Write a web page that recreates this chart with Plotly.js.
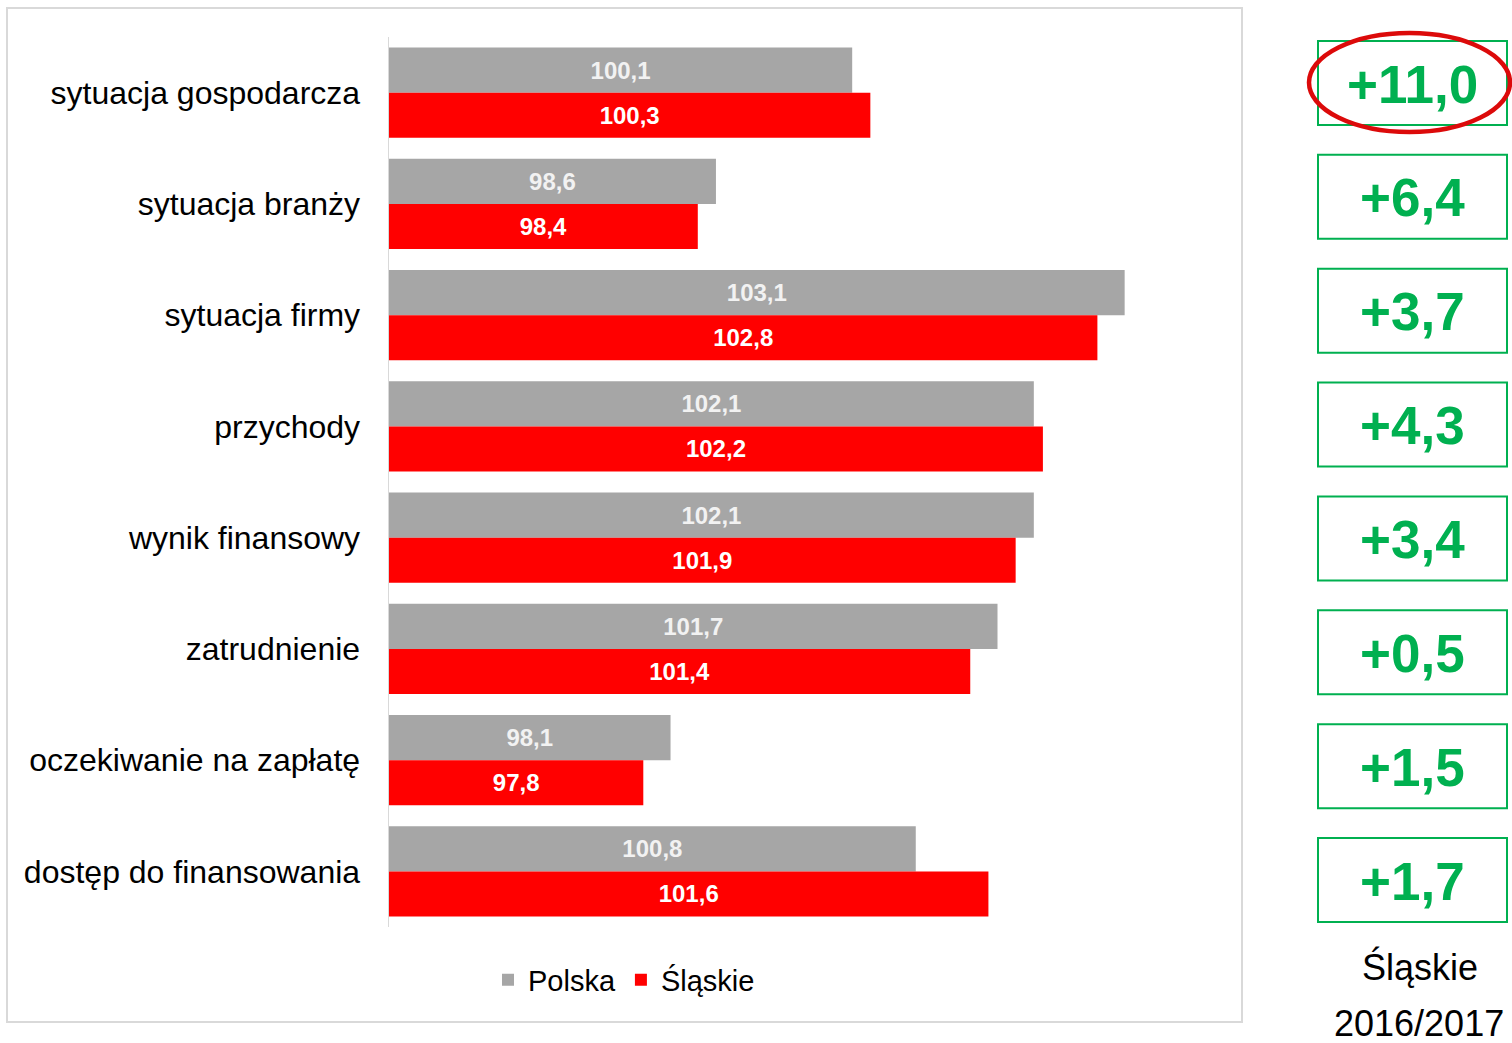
<!DOCTYPE html>
<html>
<head>
<meta charset="utf-8">
<script src="https://cdn.plot.ly/plotly-3.0.1.min.js"></script>
<style>
  html, body { margin: 0; padding: 0; background: #ffffff; }
  #chart { width: 1512px; height: 1043px; }
</style>
</head>
<body>
<div id="chart"></div>
<script>
// ---- data ----
const categories = [
  "sytuacja gospodarcza",
  "sytuacja branży",
  "sytuacja firmy",
  "przychody",
  "wynik finansowy",
  "zatrudnienie",
  "oczekiwanie na zapłatę",
  "dostęp do finansowania"
];
const polska = [100.1, 98.6, 103.1, 102.1, 102.1, 101.7, 98.1, 100.8];
const slaskie = [100.3, 98.4, 102.8, 102.2, 101.9, 101.4, 97.8, 101.6];
const zmiany = [11.0, 6.4, 3.7, 4.3, 3.4, 0.5, 1.5, 1.7];
const seriesNames = ["Polska", "Śląskie"];
const sideTitle = ["Śląskie", "2016/2017"];
const axisMin = 95;

// ---- layout helpers (pixel -> paper) ----
const W = 1512, H = 1043;
const L = 389, R = 1230, T = 37, B = 927;
const px = x => (x - L) / (R - L);
const py = y => (B - y) / (B - T);
const FONT = "Liberation Sans, Arial, sans-serif";

const fmtLabel = v => v.toFixed(1).replace(".", ",");
const fmtDiff = v => "+" + fmtLabel(v);

const makeTrace = (name, vals, color, txtColor) => ({
  type: "bar", orientation: "h", name: name,
  y: categories,
  base: axisMin,
  x: vals.map(v => v - axisMin),
  text: vals.map(fmtLabel),
  marker: { color: color, line: { width: 0 } },
  textposition: "inside", insidetextanchor: "middle",
  textangle: 0, constraintext: "none",
  textfont: { family: FONT, size: 24, color: txtColor, weight: "bold" },
  hoverinfo: "skip"
});

const traces = [
  makeTrace(seriesNames[0], polska, "#A6A6A6", "#F2F2F2"),
  makeTrace(seriesNames[1], slaskie, "#FF0000", "#FFFFFF")
];

const shapes = [];
const annotations = [];

// outer chart border
shapes.push({
  type: "rect", xref: "paper", yref: "paper",
  x0: px(7), x1: px(1242), y0: py(1022), y1: py(8),
  line: { color: "#D9D9D9", width: 2 }, fillcolor: "rgba(0,0,0,0)", layer: "below"
});

// side boxes with changes
const boxTop0 = 41, boxStep = 113.86, boxH = 84, boxL = 1318, boxR = 1507;
zmiany.forEach((v, i) => {
  const top = boxTop0 + i * boxStep;
  shapes.push({
    type: "rect", xref: "paper", yref: "paper",
    x0: px(boxL), x1: px(boxR), y0: py(top + boxH), y1: py(top),
    line: { color: "#00B050", width: 2 }, fillcolor: "rgba(0,0,0,0)"
  });
  annotations.push({
    xref: "paper", yref: "paper", x: px((boxL + boxR) / 2), y: py(top + boxH / 2 + 1),
    xanchor: "center", yanchor: "middle", showarrow: false,
    text: "<b>" + fmtDiff(v) + "</b>",
    font: { family: FONT, size: 53, color: "#00B050" }
  });
});

// red ellipse around the first box
shapes.push({
  type: "circle", xref: "paper", yref: "paper",
  x0: px(1309), x1: px(1510), y0: py(132), y1: py(33),
  line: { color: "#DC0A0A", width: 4.5 }, fillcolor: "rgba(0,0,0,0)"
});

// side caption
annotations.push({
  xref: "paper", yref: "paper", x: px(1420), y: py(967),
  xanchor: "center", yanchor: "middle", showarrow: false,
  text: sideTitle[0], font: { family: FONT, size: 36, color: "#000000" }
});
annotations.push({
  xref: "paper", yref: "paper", x: px(1419), y: py(1045),
  xanchor: "center", yanchor: "bottom", showarrow: false, borderpad: 0,
  text: sideTitle[1], font: { family: FONT, size: 36, color: "#000000" }
});

const layout = {
  width: W, height: H,
  margin: { l: L, r: W - R, t: T, b: H - B, pad: 0 },
  paper_bgcolor: "#FFFFFF", plot_bgcolor: "#FFFFFF",
  barmode: "group", bargap: 0.19, bargroupgap: 0,
  font: { family: FONT, color: "#000000" },
  showlegend: true,
  legend: {
    orientation: "h", x: px(624), xanchor: "center", y: py(980), yanchor: "middle",
    font: { family: FONT, size: 29, color: "#000000" },
    traceorder: "normal", bgcolor: "rgba(0,0,0,0)", itemwidth: 30
  },
  xaxis: {
    range: [axisMin, 104.26], showgrid: false, zeroline: false, showline: false,
    showticklabels: false, ticks: "", fixedrange: true
  },
  yaxis: {
    type: "category", autorange: "reversed", showgrid: false, zeroline: false,
    showline: true, linecolor: "#D9D9D9", linewidth: 1.5, ticks: "",
    ticklabelstandoff: 21,
    tickfont: { family: FONT, size: 32, color: "#000000" }, fixedrange: true
  },
  shapes: shapes,
  annotations: annotations
};

Plotly.newPlot("chart", traces, layout, { staticPlot: true, displayModeBar: false });
</script>
</body>
</html>
